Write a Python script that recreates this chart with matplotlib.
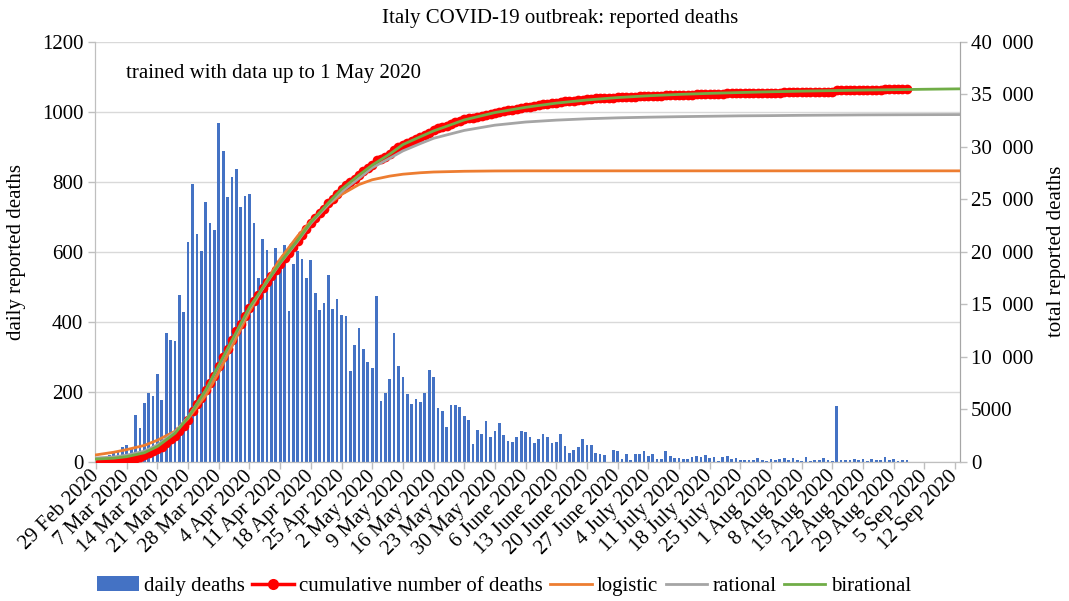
import numpy as np
import pandas as pd
import matplotlib
matplotlib.use('Agg')
import matplotlib.pyplot as plt
import matplotlib.transforms as mtransforms
from matplotlib.patches import Patch
from matplotlib.lines import Line2D

plt.rcParams['font.family'] = ['Liberation Serif', 'DejaVu Serif']

# daily reported deaths, one value per day starting 1 Mar 2020
first_day = '2020-03-01'
daily_deaths = [
    8,
    5, 18, 27, 28, 41, 49, 36, 133, 97, 168, 196, 189, 250, 175, 368, 349, 345, 475, 427, 627,
    793, 651, 601, 743, 683, 662, 969, 889, 756, 812, 837,
    727, 760, 766, 681, 525, 636, 604, 542, 610, 570, 619, 431, 566, 602, 578, 525, 575, 482,
    433, 454, 534, 437, 464, 420, 415, 260, 333, 382, 323, 285,
    269, 474, 174, 195, 236, 369, 274, 243, 194, 165, 179, 172, 195, 262, 242, 153, 145, 99,
    162, 161, 156, 130, 119, 50, 92, 78, 117, 70, 87, 111, 75,
    60, 55, 71, 88, 85, 72, 53, 65, 79, 71, 53, 56, 78, 44, 26, 34, 43, 66, 47, 49, 24, 23,
    18, -8, 34, 30, 8, 22, 6, 23,
    21, 30, 15, 21, 7, 8, 30, 15, 12, 12, 7, 9, 13, 17, 13, 20, 11, 14, 3, 13, 15, 9, 10, 5,
    5, 5, 5, 11, 6, 3, 9,
    5, 8, 12, 5, 10, 6, 3, 13, 2, 4, 6, 10, 6, 3, 158, 4, 4, 5, 7, 6, 9, 3, 7, 4, 4, 13, 5,
    9, 1, 4, 6,
]

# fitted model curves (total deaths)
model_dates = [
    '2020-02-29', '2020-03-04', '2020-03-07', '2020-03-11', '2020-03-14', '2020-03-18',
    '2020-03-21', '2020-03-25', '2020-03-28', '2020-04-01', '2020-04-04', '2020-04-08',
    '2020-04-11', '2020-04-15', '2020-04-18', '2020-04-22', '2020-04-25', '2020-04-29',
    '2020-05-02', '2020-05-06', '2020-05-09', '2020-05-13', '2020-05-16', '2020-05-23',
    '2020-05-30', '2020-06-06', '2020-06-13', '2020-06-20', '2020-06-27', '2020-07-04',
    '2020-07-11', '2020-07-18', '2020-07-25', '2020-08-01', '2020-08-08', '2020-08-15',
    '2020-08-22', '2020-08-29', '2020-09-05', '2020-09-13',
]
logistic = [
    650, 900, 1150, 1550, 2050, 2900, 4100, 6300, 8500, 11800, 14300, 17300, 19300, 21500,
    22900, 24500, 25450, 26400, 26850, 27200, 27380, 27520, 27590, 27660, 27690,
    27700, 27700, 27700, 27700, 27700, 27700, 27700, 27700, 27700, 27700, 27700, 27700,
    27700, 27700, 27700,
]
rational = [
    350, 450, 620, 1000, 1600, 2800, 4250, 6750, 9100, 12250, 14600, 17100, 18900, 21000,
    22700, 24500, 25700, 27000, 28000, 28900, 29600, 30300, 30800, 31550, 32050,
    32350, 32530, 32660, 32750, 32810, 32860, 32900, 32940, 32960, 32990, 33010, 33030,
    33040, 33050, 33060,
]
birational = [
    250, 330, 480, 850, 1450, 2700, 4200, 6800, 9200, 12350, 14700, 17150, 18950, 21100,
    22800, 24650, 25950, 27300, 28250, 29300, 30200, 30950, 31500, 32550, 33250,
    33750, 34150, 34450, 34680, 34850, 34980, 35080, 35160, 35230, 35290, 35340, 35390,
    35430, 35470, 35510,
]

month_names = {2: 'Feb', 3: 'Mar', 4: 'Apr', 5: 'May', 6: 'June', 7: 'July', 8: 'Aug', 9: 'Sep'}
left_ticks = [0, 200, 400, 600, 800, 1000, 1200]
right_ticks = [0, 5000, 10000, 15000, 20000, 25000, 30000, 35000, 40000]
right_labels = ['0', '5000', '10\u2002000', '15\u2002000', '20\u2002000', '25\u2002000',
                '30\u2002000', '35\u2002000', '40\u2002000']

days = pd.date_range(first_day, periods=len(daily_deaths), freq='D')
cumulative = np.cumsum(daily_deaths)
mdates_ = pd.to_datetime(model_dates)
tick_dates = pd.date_range('2020-02-29', '2020-09-12', freq='7D')
tick_labels = [f"{d.day} {month_names[d.month]} {d.year}" for d in tick_dates]

blue = '#4472C4'
red = '#FF0000'
orange = '#ED7D31'
gray = '#A5A5A5'
green = '#70AD47'
fs = 15

fig = plt.figure(figsize=(10.69, 6.01), dpi=100)
ax = fig.add_axes([95 / 1069, 1 - 461.7 / 601, 865 / 1069, 420 / 601])
ax2 = ax.twinx()

ax.bar(days, daily_deaths, width=0.62, color=blue, zorder=2)
ax.set_ylim(0, 1200)
ax.set_yticks(left_ticks)
ax.grid(axis='y', color='#D9D9D9', linewidth=1)
ax.set_axisbelow(True)

ax2.plot(days, cumulative, color=red, linewidth=2.5, marker='o', markersize=7,
         markeredgewidth=0, zorder=3)
ax2.plot(mdates_, logistic, color=orange, linewidth=2, zorder=4)
ax2.plot(mdates_, rational, color=gray, linewidth=2, zorder=4)
ax2.plot(mdates_, birational, color=green, linewidth=2, zorder=5)
ax2.set_ylim(0, 40000)
ax2.set_yticks(right_ticks)
ax2.set_yticklabels(right_labels)

ax.set_xlim(pd.Timestamp('2020-02-28 18:00'), pd.Timestamp('2020-09-13 03:00'))
ax.set_xticks(tick_dates)
ax.set_xticklabels(tick_labels, rotation=45, ha='right', va='center',
                   rotation_mode='anchor', fontsize=fs)
shift = mtransforms.ScaledTranslation(0.06, -0.02, fig.dpi_scale_trans)
for lbl in ax.get_xticklabels():
    lbl.set_transform(lbl.get_transform() + shift)

for a in (ax, ax2):
    a.spines['top'].set_visible(False)
    a.spines['left'].set_color('#BFBFBF')
    a.spines['right'].set_color('#A6A6A6')
    a.spines['bottom'].set_color('#BFBFBF')
    a.tick_params(colors='#BFBFBF', labelcolor='black', labelsize=fs, length=5, width=1)
ax2.tick_params(axis='y', pad=3)

fig.text(560 / 1069, 1 - 18 / 601, 'Italy COVID-19 outbreak: reported deaths',
         ha='center', va='center', fontsize=fs)
fig.text(17 / 1069, 1 - 251.7 / 601, 'daily reported deaths', rotation=90,
         ha='center', va='center', fontsize=fs)
fig.text(1057 / 1069, 1 - 251.7 / 601, 'total reported deaths', rotation=90,
         ha='center', va='center', fontsize=fs)
ax.text(0.036, 0.925, 'trained with data up to 1 May 2020', transform=ax.transAxes,
        ha='left', va='center', fontsize=fs)

handles = [
    Patch(facecolor=blue),
    Line2D([], [], color=red, linewidth=2.5, marker='o', markersize=8, markeredgewidth=0),
    Line2D([], [], color=orange, linewidth=2),
    Line2D([], [], color=gray, linewidth=2),
    Line2D([], [], color=green, linewidth=2),
]
names = ['daily deaths', 'cumulative number of deaths', 'logistic', 'rational', 'birational']
fig.legend(handles, names, loc='center', bbox_to_anchor=(504 / 1069, 1 - 586 / 601),
           ncol=5, frameon=False, fontsize=fs, handlelength=2.0, handletextpad=0.25,
           columnspacing=0.35)

fig.savefig('out.png', dpi=100)
